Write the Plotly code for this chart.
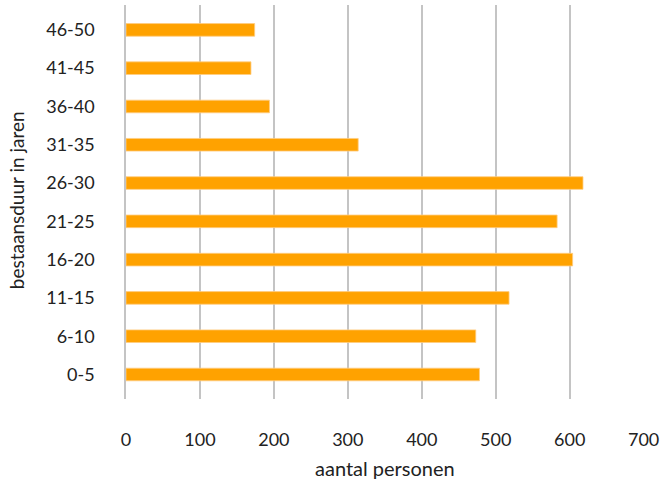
import plotly.graph_objects as go

categories = ["0-5", "6-10", "11-15", "16-20", "21-25", "26-30", "31-35", "36-40", "41-45", "46-50"]
values = [478, 473, 518, 604, 583, 618, 314, 194, 169, 174]
x_ticks = [0, 100, 200, 300, 400, 500, 600, 700]

fig = go.Figure(go.Bar(
    y=categories, x=values, orientation="h",
    marker=dict(color="#FFA200", line=dict(color="rgba(255,205,130,0.8)", width=1)),
    width=0.33,
))

fig.update_layout(
    width=660, height=483,
    margin=dict(l=126, r=16, t=5, b=84),
    paper_bgcolor="white", plot_bgcolor="white",
    font=dict(family="Lato, Open Sans, sans-serif", size=18, color="#222222"),
    showlegend=False,
    annotations=[
        dict(text="aantal personen", xref="paper", yref="paper", x=0.5, y=-0.175,
             xanchor="center", yanchor="middle", showarrow=False,
             font=dict(size=20, color="#222222")),
        dict(text="bestaansduur in jaren", xref="paper", yref="paper", x=-0.212, y=0.505,
             xanchor="center", yanchor="middle", showarrow=False, textangle=-90,
             font=dict(size=19, color="#222222")),
    ],
)
fig.update_xaxes(
    range=[0, 700.5], tickvals=x_ticks, showgrid=True, gridcolor="#C4C4C4", gridwidth=1.5,
    ticks="", ticklabelstandoff=28, zeroline=False, showline=False, automargin=False,
)
fig.update_yaxes(
    categoryorder="array", categoryarray=categories, range=[-0.64, 9.65],
    showline=True, linecolor="#C4C4C4", linewidth=1.5, showgrid=False,
    ticks="", ticklabelstandoff=26, automargin=False,
)

fig.write_html("out.html", config={"displayModeBar": False},
               post_script="document.body.style.margin='0';")
